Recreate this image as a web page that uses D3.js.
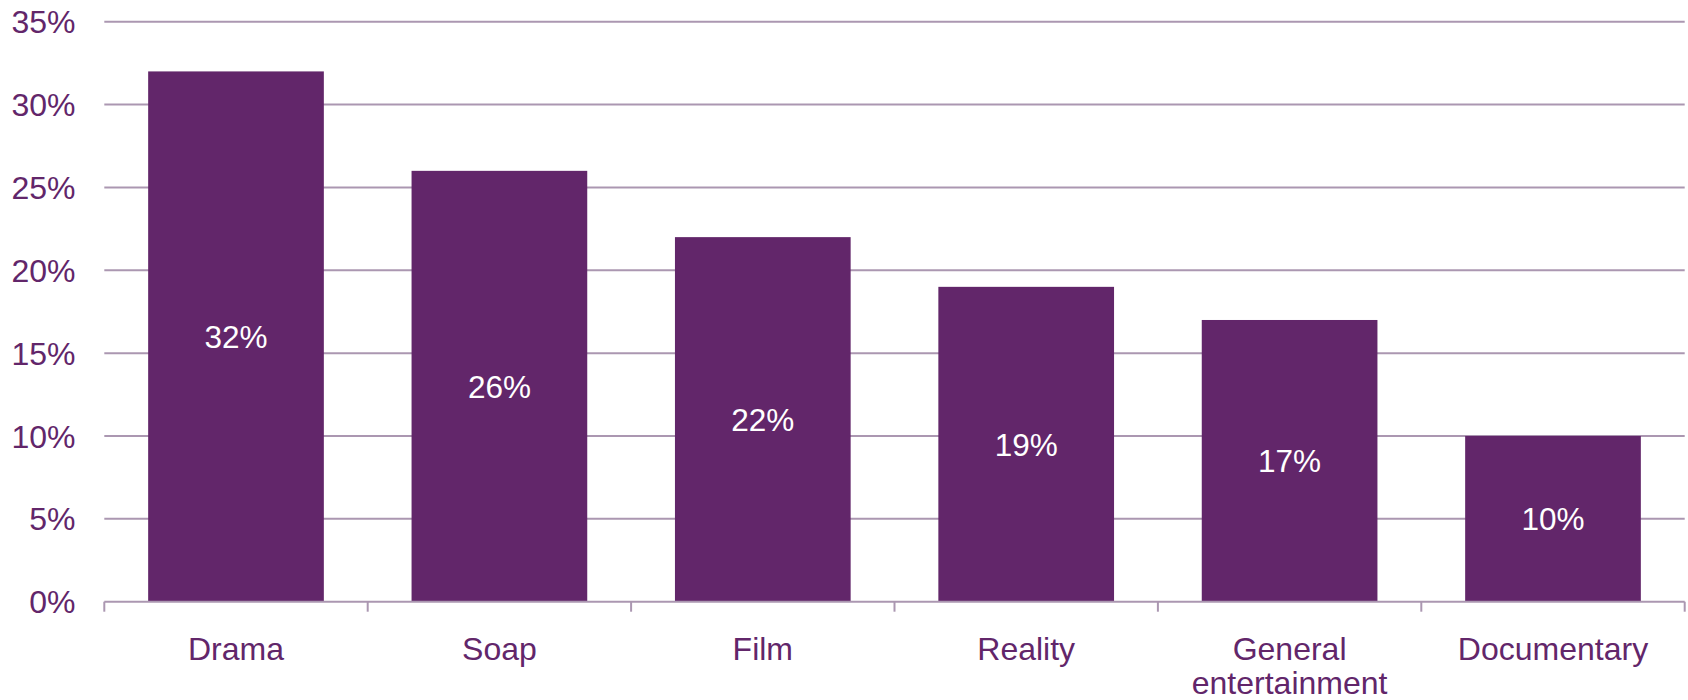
<!DOCTYPE html>
<html>
<head>
<meta charset="utf-8">
<script src="https://cdn.jsdelivr.net/npm/d3@7"></script>
<style>
  html, body { margin: 0; padding: 0; background: #ffffff; }
  svg { display: block; }
  text { font-family: "Liberation Sans", Arial, sans-serif; }
</style>
</head>
<body>
<svg id="chart" width="1688" height="700"></svg>
<script>
const categories = ["Drama", "Soap", "Film", "Reality", "General entertainment", "Documentary"];
const categoryLines = [["Drama"], ["Soap"], ["Film"], ["Reality"], ["General", "entertainment"], ["Documentary"]];
const values = [32, 26, 22, 19, 17, 10];
const yTicks = [0, 5, 10, 15, 20, 25, 30, 35];

const purple = "#62266a";
const gridColor = "#ab97b1";

const svg = d3.select("#chart");
const margin = { left: 104.3, right: 3.3, top: 21.7, bottom: 98.3 };
const W = 1688, H = 700;

const x = d3.scaleBand()
  .domain(categories)
  .range([margin.left, W - margin.right])
  .paddingInner(0.333)
  .paddingOuter(0.1665);

const y = d3.scaleLinear()
  .domain([0, 35])
  .range([H - margin.bottom, margin.top]);

// gridlines
svg.append("g")
  .selectAll("line")
  .data(yTicks.filter(d => d > 0))
  .join("line")
  .attr("x1", margin.left)
  .attr("x2", W - margin.right)
  .attr("y1", d => y(d))
  .attr("y2", d => y(d))
  .attr("stroke", gridColor)
  .attr("stroke-width", 2);

// y tick labels
svg.append("g")
  .selectAll("text")
  .data(yTicks)
  .join("text")
  .attr("x", 75.5)
  .attr("y", d => y(d))
  .attr("dy", "0.36em")
  .attr("text-anchor", "end")
  .attr("fill", purple)
  .attr("font-size", 32)
  .text(d => d + "%");

// bars
svg.append("g")
  .selectAll("rect")
  .data(values)
  .join("rect")
  .attr("x", (d, i) => x(categories[i]))
  .attr("width", x.bandwidth())
  .attr("y", d => y(d))
  .attr("height", d => y(0) - y(d))
  .attr("fill", purple);

// value labels
svg.append("g")
  .selectAll("text")
  .data(values)
  .join("text")
  .attr("x", (d, i) => x(categories[i]) + x.bandwidth() / 2)
  .attr("y", d => (y(d) + y(0)) / 2)
  .attr("dy", "0.36em")
  .attr("text-anchor", "middle")
  .attr("fill", "#ffffff")
  .attr("font-size", 31.5)
  .text(d => d + "%");

// x axis baseline and ticks
const step = x.step();
const boundaries = d3.range(categories.length + 1).map(i => margin.left + i * step);
const axis = svg.append("g");
axis.append("line")
  .attr("x1", margin.left)
  .attr("x2", W - margin.right)
  .attr("y1", y(0))
  .attr("y2", y(0))
  .attr("stroke", gridColor)
  .attr("stroke-width", 2);
axis.selectAll("line.tick")
  .data(boundaries)
  .join("line")
  .attr("class", "tick")
  .attr("x1", d => d)
  .attr("x2", d => d)
  .attr("y1", y(0))
  .attr("y2", y(0) + 10)
  .attr("stroke", gridColor)
  .attr("stroke-width", 2);

// x labels
const xl = svg.append("g")
  .selectAll("text")
  .data(categories)
  .join("text")
  .attr("x", d => x(d) + x.bandwidth() / 2)
  .attr("y", y(0) + 58.5)
  .attr("text-anchor", "middle")
  .attr("fill", purple)
  .attr("font-size", 32);
xl.each(function(d, i) {
  const t = d3.select(this);
  categoryLines[i].forEach((ln, j) => {
    t.append("tspan")
      .attr("x", x(d) + x.bandwidth() / 2)
      .attr("dy", j === 0 ? 0 : 33.5)
      .text(ln);
  });
});
</script>
</body>
</html>
